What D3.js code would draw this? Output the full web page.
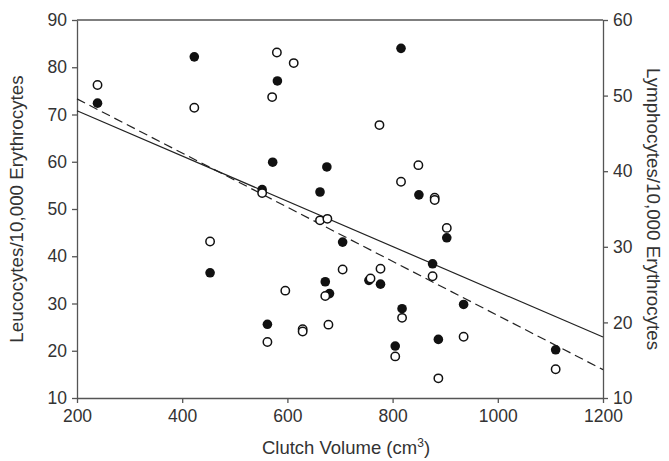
<!DOCTYPE html>
<html>
<head>
<meta charset="utf-8">
<script src="https://cdn.jsdelivr.net/npm/d3@7"></script>
<style>
  body { margin: 0; background: #fff; }
  text { font-family: "Liberation Sans", Arial, sans-serif; fill: #333; }
</style>
</head>
<body>
<script>
// Clutch volume (x) and leucocyte counts (filled points, left axis)
const leucoVolume = [239, 423, 581, 572, 552, 662, 675, 816, 850, 453, 705, 672, 680, 562,
                     876, 903, 777, 818, 805, 887, 935, 1110, 755];
const leucoCount  = [72.4, 82.2, 77.1, 59.9, 54.1, 53.6, 58.9, 84.0, 53.0, 36.5, 43.0, 34.6, 32.1, 25.6,
                     38.4, 43.9, 34.1, 28.9, 21.0, 22.4, 29.8, 20.2, 34.9];

// Clutch volume (x) and lymphocyte counts (open points, right axis)
const lymphoVolume = [239, 423, 580, 612, 571, 552, 775, 849, 816, 880, 880, 453, 662, 676, 705,
                      596, 672, 562, 629, 629, 678, 903, 876, 777, 758, 818, 805, 935, 887, 1110];
const lymphoCount  = [51.4, 48.4, 55.7, 54.3, 49.8, 37.1, 46.1, 40.8, 38.6, 36.5, 36.2, 30.7, 33.5, 33.7, 27.0,
                      24.2, 23.5, 17.4, 19.1, 18.8, 19.7, 32.5, 26.1, 27.1, 25.8, 20.6, 15.5, 18.1, 12.6, 13.8];

// Fitted lines, end points in left-axis units
const fitVolume = [200, 1200];
const leucoFit  = [70.8, 22.9];   // solid
const lymphoFit = [73.3, 16.0];   // dashed

const xTicks = [200, 400, 600, 800, 1000, 1200];
const leftTicks = [10, 20, 30, 40, 50, 60, 70, 80, 90];
const rightTicks = [10, 20, 30, 40, 50, 60];

const W = 669, H = 461;
const margin = {top: 20, right: 66, bottom: 63, left: 77};
const width = W - margin.left - margin.right,
      height = H - margin.top - margin.bottom;

const svg = d3.select("body").append("svg")
    .attr("width", W)
    .attr("height", H);

const g = svg.append("g")
    .attr("transform", `translate(${margin.left},${margin.top})`);

const x = d3.scaleLinear().domain([200, 1200]).range([0, width]);
const yL = d3.scaleLinear().domain([10, 90]).range([height, 0]);
const yR = d3.scaleLinear().domain([10, 60]).range([height, 0]);

// axes
const axisColor = "#555";
function styleAxis(sel) {
  sel.select(".domain").attr("stroke", axisColor).attr("stroke-width", 1.3);
  sel.selectAll(".tick line").attr("stroke", axisColor).attr("stroke-width", 1.3);
  sel.selectAll(".tick text").attr("font-size", 17.5).attr("fill", "#333")
     .style("font-family", "Liberation Sans, Arial, sans-serif");
}

g.append("g")
  .attr("transform", `translate(0,${height})`)
  .call(d3.axisBottom(x).tickValues(xTicks).tickFormat(d3.format("d"))
          .tickSize(5).tickSizeOuter(0).tickPadding(7))
  .call(styleAxis);

g.append("g")
  .call(d3.axisLeft(yL).tickValues(leftTicks).tickSize(5).tickSizeOuter(0).tickPadding(5))
  .call(styleAxis);

g.append("g")
  .attr("transform", `translate(${width},0)`)
  .call(d3.axisRight(yR).tickValues(rightTicks).tickSize(5).tickSizeOuter(0).tickPadding(5))
  .call(styleAxis);

// top border
g.append("line")
  .attr("x1", 0).attr("x2", width)
  .attr("y1", 0).attr("y2", 0)
  .attr("stroke", axisColor).attr("stroke-width", 1.3);

// fitted lines
const fitLine = d3.line()
  .x((d, i) => x(fitVolume[i]))
  .y(d => yL(d));

g.append("path")
  .attr("d", fitLine(leucoFit))
  .attr("fill", "none")
  .attr("stroke", "#222")
  .attr("stroke-width", 1.2);

g.append("path")
  .attr("d", fitLine(lymphoFit))
  .attr("fill", "none")
  .attr("stroke", "#222")
  .attr("stroke-width", 1.2)
  .attr("stroke-dasharray", "9,5");

// points
g.selectAll("circle.leuco")
  .data(leucoVolume)
  .enter().append("circle")
  .attr("class", "leuco")
  .attr("cx", d => x(d))
  .attr("cy", (d, i) => yL(leucoCount[i]))
  .attr("r", 4.8)
  .attr("fill", "#111");

g.selectAll("circle.lympho")
  .data(lymphoVolume)
  .enter().append("circle")
  .attr("class", "lympho")
  .attr("cx", d => x(d))
  .attr("cy", (d, i) => yR(lymphoCount[i]))
  .attr("r", 4.2)
  .attr("fill", "#fff")
  .attr("stroke", "#111")
  .attr("stroke-width", 1.5);

// axis titles
const xt = svg.append("text")
  .attr("x", 346)
  .attr("y", 454)
  .attr("text-anchor", "middle")
  .attr("font-size", 18.5)
  .text("Clutch Volume (cm");
xt.append("tspan").attr("font-size", 12).attr("dy", -7).text("3");
xt.append("tspan").attr("dy", 7).text(")");

svg.append("text")
  .attr("transform", `translate(23,${margin.top + height / 2}) rotate(-90)`)
  .attr("text-anchor", "middle")
  .attr("font-size", 18.8)
  .text("Leucocytes/10,000 Erythrocytes");

svg.append("text")
  .attr("transform", `translate(647,${margin.top + height / 2}) rotate(90)`)
  .attr("text-anchor", "middle")
  .attr("font-size", 18.8)
  .text("Lymphocytes/10,000 Erythrocytes");
</script>
</body>
</html>
